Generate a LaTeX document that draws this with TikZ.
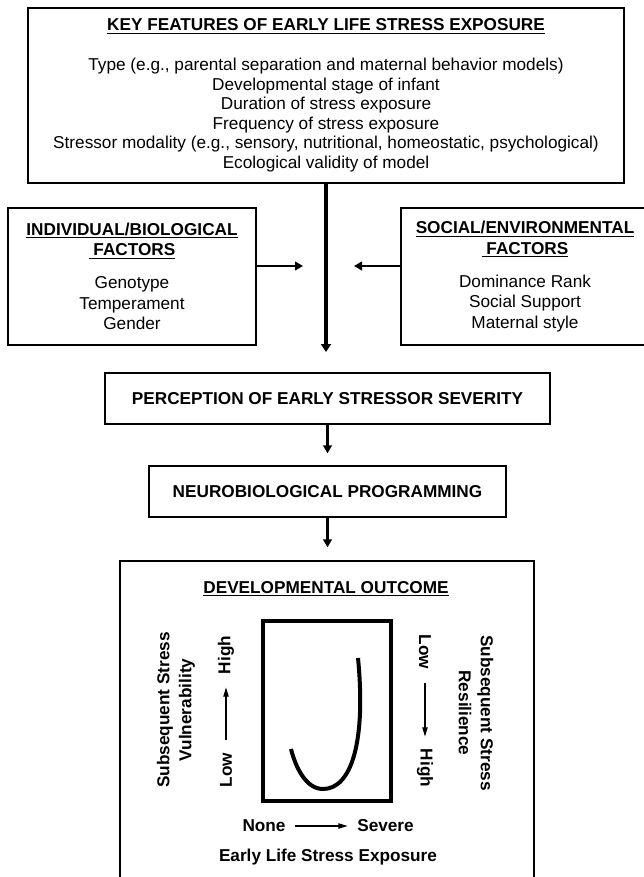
\documentclass[tikz,border=0pt]{standalone}
\usepackage{fontspec}
\setmainfont{Liberation Sans}
\usetikzlibrary{arrows.meta}

\begin{document}
\begin{tikzpicture}[x=0.75pt,y=-0.75pt]
	\tikzstyle{keybox} = [draw, line width=1.2pt, align=center, inner sep=0, font=\fontsize{12.9}{14.7}\selectfont]
	\tikzstyle{sidebox} = [draw, line width=1pt, align=center, inner sep=0, minimum width=186pt, minimum height=102.75pt, font=\fontsize{12.9}{15.4}\selectfont]
	\tikzstyle{stepbox} = [draw, line width=1pt, inner sep=0, minimum height=38.25pt, font=\fontsize{12.9}{15.4}\selectfont\bfseries]
	\tikzstyle{tag} = [inner sep=0, align=center, font=\fontsize{12.9}{16.5}\selectfont\bfseries]
	\tikzstyle{bigflow} = [line width=2.4pt, -{Triangle[length=6pt,width=7.5pt]}]
	\tikzstyle{flow} = [line width=2pt, -{Triangle[length=6pt,width=6.5pt]}]
	\tikzstyle{thinflow} = [line width=0.9pt, -{Triangle[length=7pt,width=4pt]}]

	\useasboundingbox (0,0) rectangle (643,877);

	% top box
	\node[keybox, minimum width=447pt, minimum height=131.25pt] (features) at (326,95.5) {%
		\underline{\textbf{KEY FEATURES OF EARLY LIFE STRESS EXPOSURE}}\\[15pt]
		Type (e.g., parental separation and maternal behavior models)\\
		Developmental stage of infant\\
		Duration of stress exposure\\
		Frequency of stress exposure\\
		Stressor modality (e.g., sensory, nutritional, homeostatic, psychological)\\
		Ecological validity of model};

	% factors on both sides
	\node[sidebox] (biofac) at (132,276.5) {%
		\underline{\textbf{INDIVIDUAL/BIOLOGICAL}}\\
		\underline{\textbf{\ FACTORS}}\\[9.4pt]
		Genotype\\ Temperament\\ Gender};
	\node[sidebox] (socfac) at (525,276.5) {%
		\underline{\textbf{SOCIAL/ENVIRONMENTAL}}\\
		\underline{\textbf{\ FACTORS}}\\[9.4pt]
		Dominance Rank\\ Social Support\\ Maternal style};

	\node[stepbox, minimum width=333.75pt] (percept) at (327.5,398.5) {PERCEPTION OF EARLY STRESSOR SEVERITY};
	\node[stepbox, minimum width=267.75pt] (neuro) at (327.5,491.5) {NEUROBIOLOGICAL PROGRAMMING};

	% outcome box, cut at the bottom
	\node[draw, line width=1pt, inner sep=0, minimum width=310.5pt, minimum height=258pt] (outcome) at (327,733) {};
	\node[tag] (devout) at (326,589) {\underline{DEVELOPMENTAL OUTCOME}};
	\node[draw, line width=3pt, inner sep=0, minimum width=96pt, minimum height=135pt] (plot) at (327,711) {};
	\draw[line width=3pt] (358,658) .. controls (366,740) and (352,789) .. (323,789)
		.. controls (305,789) and (295,765) .. (291,749);

	\node[tag, rotate=90] (vuln) at (176,710) {Subsequent Stress\\Vulnerability};
	\node[tag, rotate=90] (lowL) at (226,770) {Low};
	\node[tag, rotate=90] (highL) at (226,655) {High};
	\node[tag, rotate=-90] (lowR) at (425,652) {Low};
	\node[tag, rotate=-90] (highR) at (425,768) {High};
	\node[tag, rotate=-90] (resil) at (476,713) {Subsequent Stress\\Resilience};
	\node[tag] (none) at (264,826) {None};
	\node[tag] (severe) at (385.5,826) {Severe};
	\node[tag] (expo) at (328,857) {Early Life Stress Exposure};

	% connectors
	\coordinate (meet) at (326,352);
	\coordinate (lhead) at (303,266);
	\coordinate (rhead) at (354,266);
	\draw[bigflow] (features.south) -- (meet);
	\draw[flow] (biofac.east |- lhead) -- (lhead);
	\draw[flow] (socfac.west |- rhead) -- (rhead);
	\draw[flow, shorten >=9pt] (percept.south) -- (neuro.north);
	\draw[flow, shorten >=9.75pt] (neuro.south) -- (neuro.south |- outcome.north);

	\draw[thinflow, shorten <=9.75pt, shorten >=9.75pt] (lowL) -- (highL);
	\draw[thinflow, shorten <=10.5pt, shorten >=9pt] (lowR) -- (highR);
	\draw[thinflow, shorten <=7pt, shorten >=7pt] (none) -- (severe);

\end{tikzpicture}
\end{document}
